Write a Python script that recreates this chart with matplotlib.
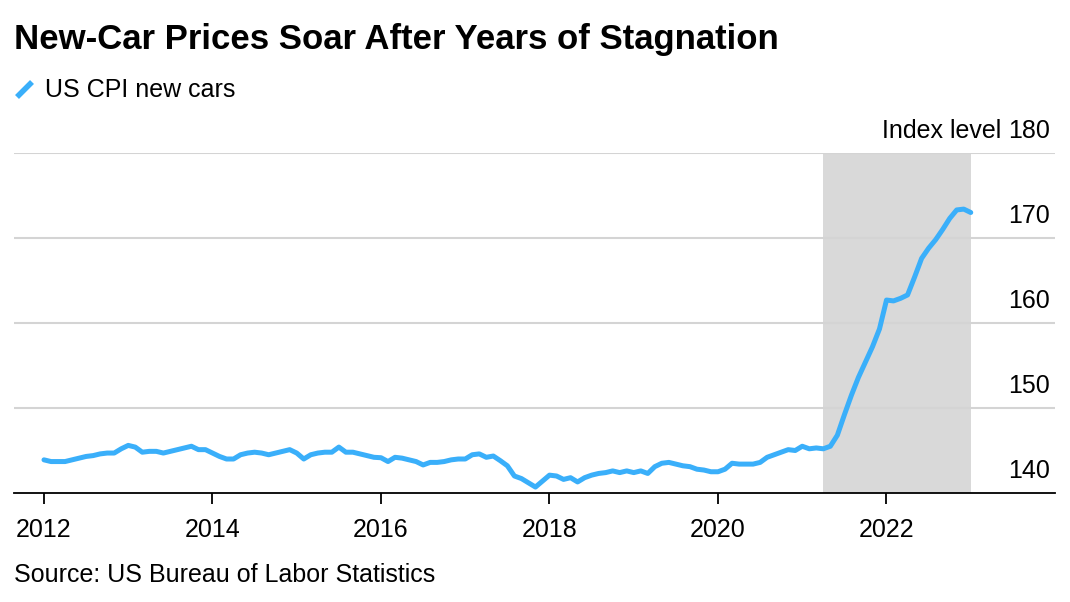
import numpy as np
import matplotlib
matplotlib.use("Agg")
import matplotlib.pyplot as plt
import matplotlib.transforms as mtransforms

plt.rcParams['font.family'] = ['Liberation Sans', 'DejaVu Sans']

# monthly US CPI new cars, Jan 2012 .. Jan 2023
cpi_2012 = [143.9, 143.7, 143.7, 143.7, 143.9, 144.1, 144.3, 144.4, 144.6, 144.7, 144.7, 145.2]
cpi_2013 = [145.6, 145.4, 144.8, 144.9, 144.9, 144.7, 144.9, 145.1, 145.3, 145.5, 145.1, 145.1]
cpi_2014 = [144.7, 144.3, 144.0, 144.0, 144.5, 144.7, 144.8, 144.7, 144.5, 144.7, 144.9, 145.1]
cpi_2015 = [144.7, 144.0, 144.5, 144.7, 144.8, 144.8, 145.4, 144.8, 144.8, 144.6, 144.4, 144.2]
cpi_2016 = [144.15, 143.7, 144.2, 144.1, 143.9, 143.7, 143.3, 143.6, 143.6, 143.7, 143.9, 144.0]
cpi_2017 = [144.0, 144.5, 144.6, 144.2, 144.35, 143.8, 143.2, 142.0, 141.7, 141.2, 140.7, 141.4]
cpi_2018 = [142.1, 142.0, 141.6, 141.8, 141.3, 141.8, 142.1, 142.3, 142.4, 142.6, 142.4, 142.6]
cpi_2019 = [142.4, 142.6, 142.3, 143.1, 143.5, 143.6, 143.4, 143.2, 143.1, 142.8, 142.7, 142.5]
cpi_2020 = [142.5, 142.8, 143.5, 143.4, 143.4, 143.4, 143.6, 144.2, 144.5, 144.8, 145.1, 145.0]
cpi_2021 = [145.5, 145.2, 145.3, 145.2, 145.5, 146.8, 149.2, 151.5, 153.6, 155.4, 157.2, 159.3]
cpi_2022 = [162.7, 162.6, 162.9, 163.3, 165.4, 167.6, 168.8, 169.8, 171.0, 172.3, 173.3, 173.4]
cpi_2023 = [173.0]

cpi = (cpi_2012 + cpi_2013 + cpi_2014 + cpi_2015 + cpi_2016 + cpi_2017 + cpi_2018
       + cpi_2019 + cpi_2020 + cpi_2021 + cpi_2022 + cpi_2023)
dates = 2012 + np.arange(len(cpi)) / 12

shade_start = 2021.25
shade_end = 2023.0
year_ticks = [2012, 2014, 2016, 2018, 2020, 2022]
y_ticks = [140, 150, 160, 170, 180]

blue = '#3aaffa'

fig = plt.figure(figsize=(10.7, 6.02), dpi=100)
ax = fig.add_axes([14 / 1070, 1 - 493 / 602, (1055 - 14) / 1070, 340 / 602])

ax.axvspan(shade_start, shade_end, color='#d9d9d9', zorder=0, lw=0)
for y in y_ticks[1:]:
    ax.axhline(y, color='#d4d4d4', lw=1.5, zorder=1)
ax.plot(dates, cpi, color=blue, lw=3.6, solid_joinstyle='round', solid_capstyle='round', zorder=3)

ax.set_xlim(2011.644, 2024.0)
ax.set_ylim(140, 180)

for s in ['top', 'right', 'left']:
    ax.spines[s].set_visible(False)
ax.spines['bottom'].set_color('black')
ax.spines['bottom'].set_linewidth(1.3)
ax.spines['bottom'].set_zorder(4)

ax.set_yticks([])
ax.set_xticks(year_ticks)
ax.set_xticklabels([str(y) for y in year_ticks], fontsize=18)
ax.tick_params(axis='x', length=8, width=1.3, color='black', pad=10)

trans = mtransforms.blended_transform_factory(ax.transAxes, ax.transData)
for y in y_ticks:
    ax.text(0.9952, y + 1.2, str(y), transform=trans, ha='right', va='bottom', fontsize=18)
ax.text(0.948, 181.2, 'Index level', transform=trans, ha='right', va='bottom', fontsize=18)

fig.text(14 / 1070, 1 - 40 / 602, 'New-Car Prices Soar After Years of Stagnation',
         fontsize=25, fontweight='bold', va='center', ha='left')

# legend entry
fig.add_artist(plt.Line2D([17 / 1070, 32 / 1070], [1 - 97 / 602, 1 - 82 / 602], color=blue, lw=4,
                          solid_capstyle='butt'))
fig.text(45 / 1070, 1 - 90 / 602, 'US CPI new cars', fontsize=18, va='center', ha='left')

fig.text(14 / 1070, 1 - 575 / 602, 'Source: US Bureau of Labor Statistics', fontsize=18,
         va='center', ha='left')

fig.savefig('out.png', dpi=100)
